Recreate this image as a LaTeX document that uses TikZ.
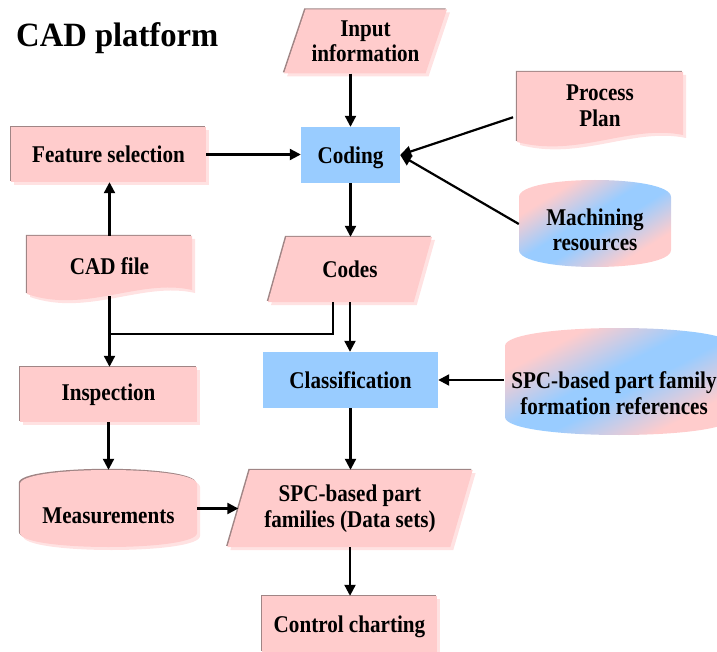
\documentclass[tikz,border=0pt]{standalone}
\usepackage{fontspec}
\setmainfont{Liberation Serif}
\newfontfamily\lblfont{Liberation Serif}[FakeStretch=0.88]
\newfontfamily\ttlfont{Liberation Serif}[FakeStretch=0.96]
\usetikzlibrary{shapes.geometric,shadows,arrows.meta}
\definecolor{pk}{HTML}{FFCCCC}
\definecolor{bl}{HTML}{99CCFF}
\definecolor{pkedge}{HTML}{A08585}
\definecolor{pkshade}{HTML}{FFE2E2}
\pgfdeclareverticalshading{pinkblue}{100bp}{color(0bp)=(pk); color(30bp)=(pk);
  color(46bp)=(bl); color(54bp)=(bl); color(70bp)=(pk); color(100bp)=(pk)}

% pink shape with a dark top/left edge and a pale offset shadow
\newcommand\pinkshape[1]{%
  \fill[pkshade, shift={(3,3)}] #1;
  \fill[pkedge, shift={(-1.2,-1.2)}] #1;
  \fill[pk] #1;}
% drum (storage) outline: style, x1, ytop, x2, ybottom, bulge
\newcommand\drumshape[6]{%
  \path[#1] (#2,#3+#6) .. controls (#2,#3-#6/3) and (#4,#3-#6/3) .. (#4,#3+#6)
    -- (#4,#5-#6) .. controls (#4,#5+#6/3) and (#2,#5+#6/3) .. (#2,#5-#6) -- cycle;}

\begin{document}
\begin{tikzpicture}[x=1pt,y=-1pt,
  lbl/.style={font=\lblfont\bfseries\fontsize{24}{25.5}\selectfont, align=center, inner sep=0pt},
  pinkbox/.style={lbl, rectangle, fill=pk,
     general shadow={shadow xshift=-1.2pt, shadow yshift=1.2pt, fill=pkedge},
     general shadow={shadow xshift=3pt, shadow yshift=-3pt, fill=pkshade}},
  bluebox/.style={lbl, rectangle, fill=bl},
  para/.style={pinkbox, trapezium, trapezium left angle=65, trapezium right angle=115,
     trapezium stretches=true},
  hold/.style={lbl, rectangle},
  arr/.style={line width=2.2pt, -{Triangle[length=11pt,width=11pt]}},
  link/.style={line width=2.2pt},
  drumfill/.style={shade, shading=pinkblue, shading angle=#1}
]
\clip (0,0) rectangle (717,652);

% title
\node[font=\ttlfont\bfseries\fontsize{34}{36}\selectfont, anchor=base west, inner sep=0pt]
  (title) at (16,47) {CAD platform};

% top row
\node[para, minimum width=163pt, minimum height=64pt] (inp) at (365.5,41.5) {Input\\information};
\node[bluebox, minimum width=99pt, minimum height=56pt, text height=19pt, text depth=2pt] (cod) at (350.5,155) {Coding};
\node[pinkbox, minimum width=195pt, minimum height=55pt] (fs) at (108.5,154.5) {Feature selection};

% process plan document
\pinkshape{(517,72) -- (683,72) -- (683,135) .. controls (630,124) and (578,158) .. (517,142) -- cycle}
\node[hold, minimum width=166pt, minimum height=68pt] (pp) at (600,106) {Process\\Plan};

% machining resources store
\drumshape{drumfill=32}{519}{180}{671}{267}{17}
\node[hold, minimum width=152pt, minimum height=80pt] (mr) at (595,230) {Machining\\resources};

% CAD file document
\pinkshape{(27,236) -- (192,236) -- (192,290) .. controls (140,278) and (85,314) .. (27,294) -- cycle}
\node[hold, minimum width=165pt, minimum height=60pt] (cad) at (109.5,266) {CAD file};

\node[para, minimum width=164pt, minimum height=65pt] (codes) at (350,269.5) {Codes};

% middle row
\node[bluebox, minimum width=175pt, minimum height=56pt] (cls) at (350.5,380) {Classification};
\drumshape{drumfill=28}{505}{328}{733}{435}{18}
\node[hold, minimum width=220pt, minimum height=80pt] (refs) at (614,393)
  {SPC-based part family\\formation references};
\node[pinkbox, minimum width=177pt, minimum height=55pt] (insp) at (108.5,394.5) {Inspection};

% lower row
\drumshape{fill=pkshade, shift={(3,3)}}{20}{470}{197}{547}{14}
\drumshape{fill=pkedge, shift={(-1.2,-1.2)}}{20}{470}{197}{547}{14}
\drumshape{fill=pk}{20}{470}{197}{547}{14}
\node[hold, minimum width=177pt, minimum height=77pt, text height=29pt, text depth=0pt]
  (meas) at (108.5,508.5) {Measurements};
\node[para, trapezium left angle=68, trapezium right angle=112,
  minimum width=246pt, minimum height=77pt] (fam) at (350,508.5) {SPC-based part\\families (Data sets)};
\node[pinkbox, minimum width=175pt, minimum height=56pt, text height=19pt, text depth=2pt] (ctrl) at (349.5,624) {Control charting};

% connectors
\draw[arr] (inp.south -| cod.north) -- (cod.north);
\draw[arr] (fs.east) -- (fs.east -| cod.west);
\draw[arr, shorten <=4pt] ([yshift=-10pt]pp.west) -- (cod.east);
\draw[arr] ([yshift=6pt]mr.west) -- (cod.east);
\draw[arr] (cod.south) -- (cod.south |- codes.north);
\draw[arr] (cad.north) -- (cad.north |- fs.south);
\draw[arr] (cad.south) -- (cad.south |- insp.north);
\coordinate (jy) at (0,334);
\draw[link] ([xshift=-17pt]codes.south) |- (cad.south |- jy);
\draw[arr] (codes.south) -- (codes.south |- cls.north);
\draw[arr] (refs.west |- cls.east) -- (cls.east);
\draw[arr] (cls.south) -- (cls.south |- fam.north);
\draw[arr] (insp.south) -- (insp.south |- meas.north);
\draw[arr] (meas.east |- fam.west) -- (fam.west);
\draw[arr] (fam.south) -- (fam.south |- ctrl.north);
\end{tikzpicture}
\end{document}
